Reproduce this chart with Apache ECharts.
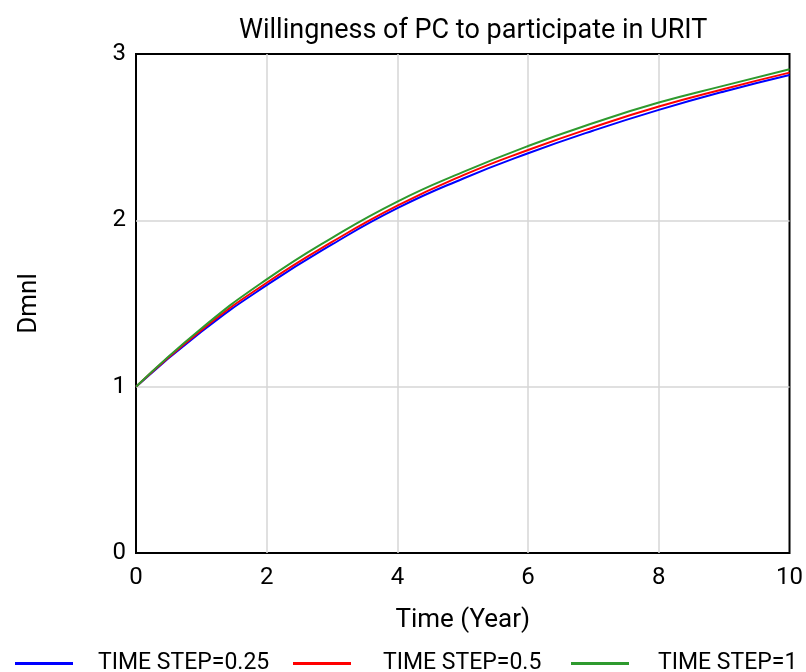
<!DOCTYPE html>
<html>
<head>
<meta charset="utf-8">
<script src="https://cdn.jsdelivr.net/npm/echarts@6/dist/echarts.min.js"></script>
<style>
  html, body { margin: 0; padding: 0; background: #fff; }
  #chart { width: 806px; height: 672px; }
</style>
</head>
<body>
<div id="chart"></div>
<script>
  // years 0..10
  var years = [0, 1, 2, 3, 4, 5, 6, 7, 8, 9, 10];
  var step025 = [1, 1.33, 1.61, 1.855, 2.073, 2.25, 2.403, 2.54, 2.664, 2.775, 2.874];
  var step05 = [1, 1.34, 1.625, 1.87, 2.088, 2.27, 2.423, 2.56, 2.684, 2.79, 2.888];
  var step1 = [1, 1.35, 1.645, 1.895, 2.113, 2.29, 2.447, 2.585, 2.708, 2.81, 2.908];
  var seriesNames = ["TIME STEP=0.25", "TIME STEP=0.5", "TIME STEP=1"];
  var colors = ["#0000ff", "#ff0000", "#2e9a2e"];

  var fontFam = "Roboto, 'Liberation Sans', sans-serif";

  function pairs(vals) {
    return years.map(function (t, i) { return [t, vals[i]]; });
  }

  function lineSeries(name, vals, color) {
    return {
      name: name,
      type: "line",
      smooth: true,
      symbol: "none",
      data: pairs(vals),
      lineStyle: { color: color, width: 2 },
      itemStyle: { color: color }
    };
  }

  // one legend per item so each sits where it does in the picture
  var legendLefts = [10, 288, 566];
  var legendPads = [20, 27, 24];
  var legends = seriesNames.map(function (n, i) {
    return {
      bottom: -8,
      left: legendLefts[i],
      icon: "rect",
      itemWidth: 58,
      itemHeight: 3,
      data: [n],
      textStyle: { fontFamily: fontFam, fontSize: 23, color: "#000", padding: [4, 0, 0, legendPads[i]] }
    };
  });

  var chart = echarts.init(document.getElementById("chart"));
  chart.setOption({
    animation: false,
    title: {
      text: "Willingness of PC to participate in URIT",
      left: 234,
      top: 13,
      textStyle: { fontFamily: fontFam, fontSize: 27, fontWeight: "normal", color: "#000" }
    },
    legend: legends,
    grid: { left: 136, right: 15, top: 54, bottom: 119, show: true, borderColor: "#000", borderWidth: 2 },
    xAxis: {
      type: "value",
      min: 0,
      max: 10,
      interval: 2,
      name: "Time (Year)",
      nameLocation: "middle",
      nameGap: 54,
      nameTextStyle: { fontFamily: fontFam, fontSize: 26, color: "#000" },
      axisLine: { show: false },
      axisTick: { show: false },
      axisLabel: { fontFamily: fontFam, fontSize: 24, color: "#000", margin: 13 },
      splitLine: { showMinLine: false, showMaxLine: false, lineStyle: { color: "#d6d6d6", width: 1.5 } }
    },
    yAxis: {
      type: "value",
      min: 0,
      max: 3,
      interval: 1,
      name: "Dmnl",
      nameLocation: "middle",
      nameGap: 94,
      nameTextStyle: { fontFamily: fontFam, fontSize: 26, color: "#000" },
      axisLine: { show: false },
      axisTick: { show: false },
      axisLabel: { fontFamily: fontFam, fontSize: 24, color: "#000", margin: 10 },
      splitLine: { showMinLine: false, showMaxLine: false, lineStyle: { color: "#d6d6d6", width: 1.5 } }
    },
    series: [
      lineSeries(seriesNames[0], step025, colors[0]),
      lineSeries(seriesNames[1], step05, colors[1]),
      lineSeries(seriesNames[2], step1, colors[2])
    ]
  });
</script>
</body>
</html>
